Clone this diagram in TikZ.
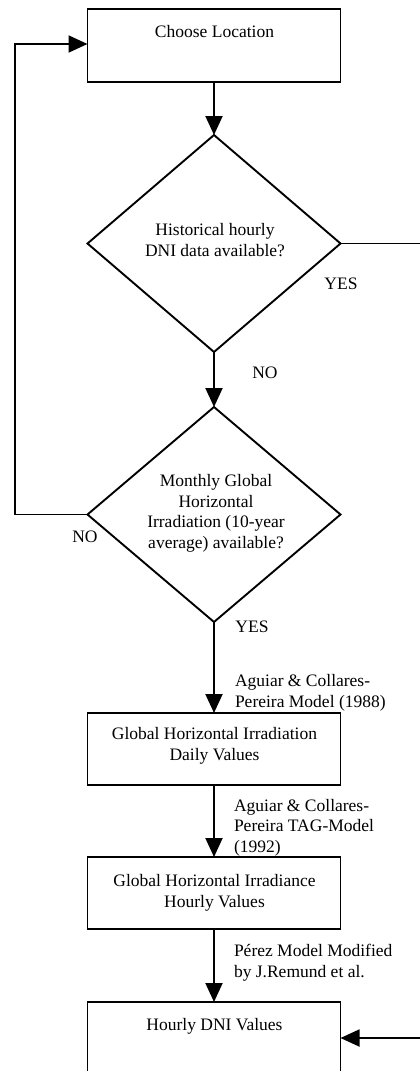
\documentclass[tikz,border=0pt]{standalone}
\usepackage{fontspec}
\setmainfont{Liberation Serif}
\usetikzlibrary{shapes.geometric,arrows.meta}
\begin{document}
\begin{tikzpicture}[x=1pt,y=-1pt,
  every node/.style={inner sep=0pt,outer sep=0pt},
  box/.style={draw,line width=1.9pt,rectangle,minimum width=253pt},
  dia/.style={draw,line width=1.9pt,diamond,minimum width=253pt},
  txt/.style={font=\fontsize{17.5}{20.5}\selectfont,align=center,anchor=base},
  lbl/.style={font=\fontsize{17.5}{20.5}\selectfont,align=left,anchor=base west},
  tag/.style={font=\fontsize{17.5}{20.5}\selectfont,anchor=base},
  arr/.style={line width=1.9pt,-{Triangle[length=19pt,width=17pt]}}]
\useasboundingbox (0,0) rectangle (420,1071);
% boxes and decisions
\node[box,minimum height=73pt] (b1) at (214,45.5) {};
\node[dia,minimum height=217pt] (d1) at (214,243.5) {};
\node[dia,minimum height=215pt] (d2) at (214,514.5) {};
\node[box,minimum height=72pt] (b2) at (214,749) {};
\node[box,minimum height=72pt] (b3) at (214,893) {};
\node[box,minimum height=100pt] (b4) at (214,1052) {};
% texts (anchor = baseline of the last line)
\node[txt] (t1) at (214.5,37) {Choose Location};
\node[txt] (t2) at (215,256) {Historical hourly\\DNI data available?};
\node[txt] (t3) at (216,548) {Monthly Global\\Horizontal\\Irradiation (10-year\\average) available?};
\node[txt] (t4) at (214.5,760) {Global Horizontal Irradiation\\Daily Values};
\node[txt] (t5) at (214.5,907) {Global Horizontal Irradiance\\Hourly Values};
\node[txt] (t6) at (214.5,1030) {Hourly DNI Values};
% edge labels
\node[tag] (yes1) at (341,289) {YES};
\node[tag] (no1) at (265,378) {NO};
\node[tag] (no2) at (85,542) {NO};
\node[tag] (yes2) at (252,632) {YES};
\node[lbl] (m1) at (235,707) {Aguiar \& Collares-\\Pereira Model (1988)};
\node[lbl] (m2) at (234,852) {Aguiar \& Collares-\\Pereira TAG-Model\\(1992)};
\node[lbl] (m3) at (234,977) {Pérez Model Modified\\by J.Remund et al.};
% connectors
\coordinate (lp) at (15,514.5);
\coordinate (rt) at (426,243.5);
\draw[arr] (b1.south) -- (d1.north);
\draw[arr] (d1.south) -- (d2.north);
\draw[arr] (d2.south) -- (b2.north);
\draw[arr] (b2.south) -- (b3.north);
\draw[arr] (b3.south) -- (b4.north);
\draw[arr] (d2.west) -- (lp) |- ([yshift=1.5pt]b1.west);
\draw[arr] (d1.east) -- (rt) |- ([yshift=-36pt]b4.north east);
\end{tikzpicture}
\end{document}
